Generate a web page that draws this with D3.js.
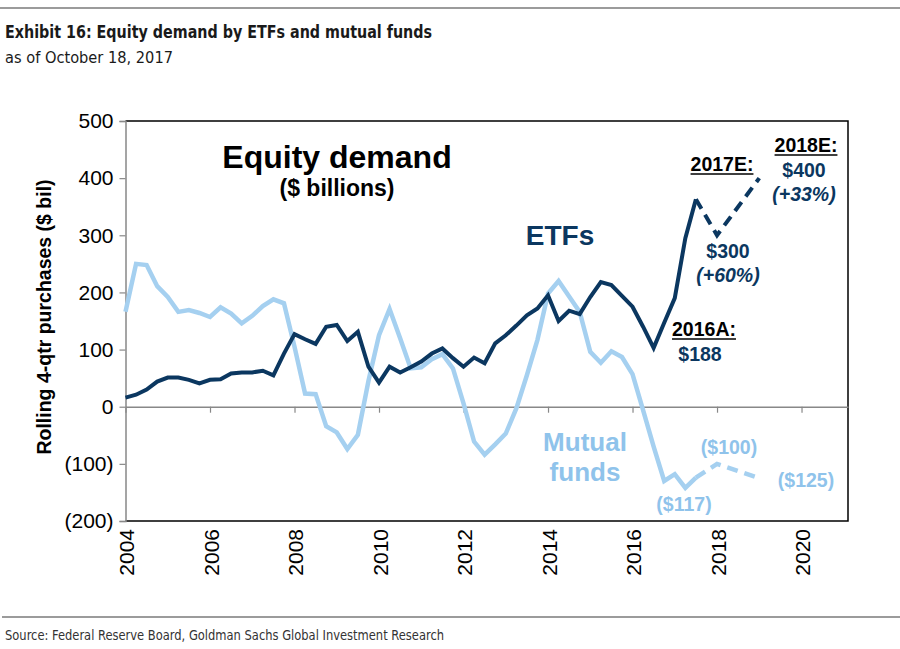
<!DOCTYPE html>
<html><head><meta charset="utf-8">
<script src="https://cdn.jsdelivr.net/npm/d3@7"></script>
<style>html,body{margin:0;padding:0;background:#fff;} svg{display:block;}</style>
</head><body>
<svg id="chart" width="900" height="649"></svg>
<script>
// ---------------- DATA ----------------
const quarters = [
  2004.00, 2004.25, 2004.50, 2004.75, 2005.00, 2005.25, 2005.50, 2005.75,
  2006.00, 2006.25, 2006.50, 2006.75, 2007.00, 2007.25, 2007.50, 2007.75,
  2008.00, 2008.25, 2008.50, 2008.75, 2009.00, 2009.25, 2009.50, 2009.75,
  2010.00, 2010.25, 2010.50, 2010.75, 2011.00, 2011.25, 2011.50, 2011.75,
  2012.00, 2012.25, 2012.50, 2012.75, 2013.00, 2013.25, 2013.50, 2013.75,
  2014.00, 2014.25, 2014.50, 2014.75, 2015.00, 2015.25, 2015.50, 2015.75,
  2016.00, 2016.25, 2016.50, 2016.75, 2017.00, 2017.25, 2017.50
];
const etfValues = [
  16, 21, 30, 44, 51, 51, 47, 41,
  47, 48, 58, 60, 60, 63, 55, 93,
  127, 118, 110, 140, 143, 115, 131, 70,
  42, 70, 60, 69, 79, 93, 102, 85,
  70, 86, 76, 111, 125, 142, 160, 172,
  195, 150, 168, 162, 192, 218, 213, 194,
  175, 140, 103, 147, 190, 295, 363
];
const mutualFundValues = [
  166, 250, 248, 211, 192, 166, 169, 164,
  157, 174, 163, 146, 159, 176, 188, 181,
  105, 23, 22, -34, -45, -74, -49, 45,
  125, 171, 120, 67, 69, 83, 92, 67,
  6, -61, -84, -66, -47, -3, 55, 117,
  198, 220, 193, 166, 96, 77, 97, 87,
  57, -6, -70, -130, -118, -142, -124
];
const forecastYears = [2017.5, 2018.0, 2019.0];
const etfForecastValues = [363, 300, 400];
const mutualFundForecastValues = [-124, -100, -125];

const xTickYears = [2004, 2006, 2008, 2010, 2012, 2014, 2016, 2018, 2020];
const yTickValues = [500, 400, 300, 200, 100, 0, -100, -200];
const yTickLabels = ["500", "400", "300", "200", "100", "0", "(100)", "(200)"];

const titleText = "Exhibit 16: Equity demand by ETFs and mutual funds";
const subtitleText = "as of October 18, 2017";
const sourceText = "Source: Federal Reserve Board, Goldman Sachs Global Investment Research";
const yAxisTitle = "Rolling 4-qtr purchases ($ bil)";

// ---------------- SETUP ----------------
const navy = "#0b3760";
const lightBlue = "#a5d0f0";
const lightBlueText = "#8fc3eb";
const svg = d3.select("#chart");
const sans = "'Liberation Sans', Arial, sans-serif";
const narrow = "'Liberation Sans Narrow', 'Arial Narrow', 'DejaVu Sans Condensed', sans-serif";

const x = d3.scaleLinear().domain([2004, 2021.1]).range([125.5, 848]);
const y = d3.scaleLinear().domain([-200, 500]).range([521, 121]);

// header / footer
svg.append("line").attr("x1", 0).attr("x2", 900).attr("y1", 8).attr("y2", 8)
  .attr("stroke", "#7a7a7a").attr("stroke-width", 1.5);
svg.append("text").attr("x", 5).attr("y", 38).text(titleText)
  .attr("font-family", narrow).attr("font-weight", "bold").attr("font-size", 18.5)
  .attr("fill", "#1a1a1a").attr("textLength", 427).attr("lengthAdjust", "spacingAndGlyphs");
svg.append("text").attr("x", 5).attr("y", 63).text(subtitleText)
  .attr("font-family", narrow).attr("font-size", 16.5)
  .attr("fill", "#1a1a1a").attr("textLength", 168).attr("lengthAdjust", "spacingAndGlyphs");
svg.append("line").attr("x1", 2).attr("x2", 900).attr("y1", 617).attr("y2", 617)
  .attr("stroke", "#7a7a7a").attr("stroke-width", 1.5);
svg.append("text").attr("x", 5).attr("y", 640).text(sourceText)
  .attr("font-family", narrow).attr("font-size", 14)
  .attr("fill", "#333").attr("textLength", 439).attr("lengthAdjust", "spacingAndGlyphs");

// plot frame
const [x0, x1] = x.range();
const [yb, yt] = y.range();
svg.append("path")
  .attr("d", `M${x0},${yt}H${x1}V${yb}H${x0}`)
  .attr("fill", "none").attr("stroke", "#000").attr("stroke-width", 1.5);

// y axis (left, gray)
const yAxis = d3.axisLeft(y).tickValues(yTickValues)
  .tickFormat((d, i) => yTickLabels[i]).tickSize(6).tickPadding(6);
const gy = svg.append("g").attr("transform", `translate(${x0},0)`).call(yAxis);
gy.select(".domain").attr("stroke", "#888").attr("stroke-width", 1.5);
gy.selectAll(".tick line").attr("stroke", "#888").attr("stroke-width", 1.2);
gy.selectAll(".tick text").attr("font-family", sans).attr("font-size", 21).attr("fill", "#000");

// zero line with x ticks
const xAxis = d3.axisBottom(x).tickValues(xTickYears).tickFormat("").tickSize(6).tickSizeOuter(0);
const gx = svg.append("g").attr("transform", `translate(0,${y(0)})`).call(xAxis);
gx.select(".domain").attr("stroke", "#888").attr("stroke-width", 1.5);
gx.selectAll(".tick line").attr("stroke", "#888").attr("stroke-width", 1.2);

// x tick labels (rotated, below plot)
svg.append("g").selectAll("text").data(xTickYears).join("text")
  .attr("transform", d => `translate(${x(d) + 1},${yb + 8}) rotate(-90)`)
  .attr("text-anchor", "end").attr("dy", "0.36em")
  .attr("font-family", sans).attr("font-size", 21).attr("fill", "#000")
  .text(d => String(d));

// y axis title
svg.append("text")
  .attr("transform", `translate(51,317) rotate(-90)`)
  .attr("text-anchor", "middle")
  .attr("font-family", sans).attr("font-weight", "bold").attr("font-size", 19.5).attr("fill", "#000")
  .text(yAxisTitle);

// ---------------- LINES ----------------
const line = d3.line().x(d => x(d[0])).y(d => y(d[1]));
const mfData = quarters.map((q, i) => [q, mutualFundValues[i]]);
const etfData = quarters.map((q, i) => [q, etfValues[i]]);
const mfForecast = forecastYears.map((q, i) => [q, mutualFundForecastValues[i]]);
const etfForecast = forecastYears.map((q, i) => [q, etfForecastValues[i]]);

svg.append("path").attr("d", line(mfData)).attr("fill", "none")
  .attr("stroke", lightBlue).attr("stroke-width", 4.5).attr("stroke-linejoin", "miter").attr("stroke-miterlimit", 3);
svg.append("path").attr("d", line(mfForecast)).attr("fill", "none")
  .attr("stroke", lightBlue).attr("stroke-width", 4.5).attr("stroke-dasharray", "11,7");
svg.append("path").attr("d", line(etfData)).attr("fill", "none")
  .attr("stroke", navy).attr("stroke-width", 4).attr("stroke-linejoin", "miter").attr("stroke-miterlimit", 3);
svg.append("path").attr("d", line(etfForecast)).attr("fill", "none")
  .attr("stroke", navy).attr("stroke-width", 4).attr("stroke-dasharray", "11,7");

// ---------------- TEXT ANNOTATIONS ----------------
function label(tx, ty, str, opts) {
  const t = svg.append("text").attr("x", tx).attr("y", ty).text(str)
    .attr("font-family", sans).attr("text-anchor", opts.anchor || "middle")
    .attr("font-size", opts.size).attr("font-weight", opts.weight || "normal")
    .attr("font-style", opts.style || "normal").attr("fill", opts.fill || "#000");
  if (opts.underline) {
    const w = t.node().getComputedTextLength();
    const left = tx - w / 2;
    svg.append("line").attr("x1", left).attr("x2", left + w)
      .attr("y1", ty + 3).attr("y2", ty + 3)
      .attr("stroke", opts.fill || "#000").attr("stroke-width", 1.6);
  }
  return t;
}

label(337, 168, "Equity demand", {size: 32, weight: "bold"});
label(337, 196, "($ billions)", {size: 23, weight: "bold"});
label(560, 245, "ETFs", {size: 28, weight: "bold", fill: navy});
label(585, 451, "Mutual", {size: 26, weight: "bold", fill: lightBlueText});
label(585, 481, "funds", {size: 26, weight: "bold", fill: lightBlueText});

label(722, 171, "2017E:", {size: 19.5, weight: "bold", underline: true});
label(806, 152, "2018E:", {size: 19.5, weight: "bold", underline: true});
label(804, 177, "$400", {size: 19.5, weight: "bold", fill: navy});
label(804, 201, "(+33%)", {size: 19.5, weight: "bold", style: "italic", fill: navy});
label(728, 258, "$300", {size: 19.5, weight: "bold", fill: navy});
label(728, 282, "(+60%)", {size: 19.5, weight: "bold", style: "italic", fill: navy});
label(704, 336, "2016A:", {size: 19.5, weight: "bold", underline: true});
label(700, 361, "$188", {size: 19.5, weight: "bold", fill: navy});

label(684, 511, "($117)", {size: 19.5, weight: "bold", fill: lightBlueText});
label(729, 454, "($100)", {size: 19.5, weight: "bold", fill: lightBlueText});
label(806, 487, "($125)", {size: 19.5, weight: "bold", fill: lightBlueText});
</script>
</body></html>
